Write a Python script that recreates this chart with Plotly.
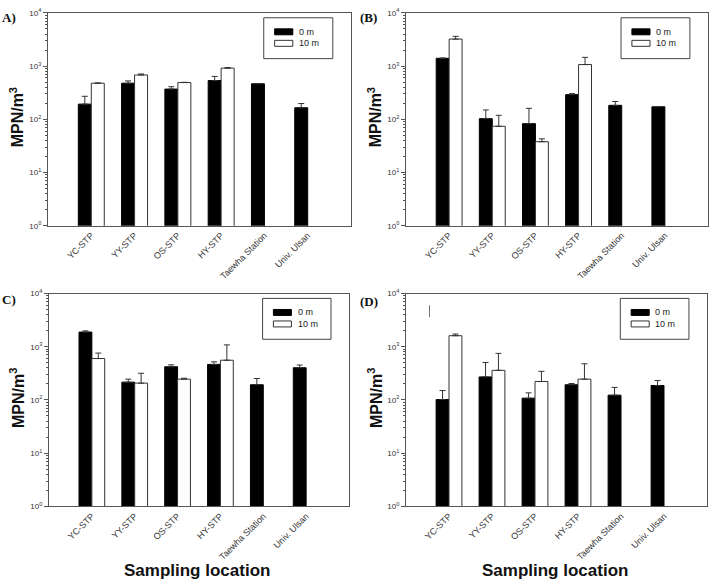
import plotly.graph_objects as go

W, H = 712, 586

categories = ["YC-STP", "YY-STP", "OS-STP", "HY-STP", "Taewha Station", "Univ. Ulsan"]

# Panel A
a_0m = [193, 477, 370, 535, 465, 165]
a_0m_err = [78, 50, 40, 105, 5, 33]
a_10m = [477, 681, 491, 916, None, None]
a_10m_err = [5, 30, 5, 25, None, None]

# Panel B
b_0m = [1400, 103, 83, 291, 183, 172]
b_0m_err = [20, 47, 78, 13, 33, 2]
b_10m = [3220, 74, 38, 1069, None, None]
b_10m_err = [400, 45, 5, 390, None, None]

# Panel C
c_0m = [1884, 216, 420, 465, 193, 403]
c_0m_err = [100, 30, 37, 55, 60, 50]
c_10m = [600, 207, 246, 558, None, None]
c_10m_err = [160, 110, 10, 525, None, None]

# Panel D
d_0m = [102, 271, 108, 193, 123, 187]
d_0m_err = [48, 235, 28, 11, 49, 45]
d_10m = [1611, 360, 222, 246, None, None]
d_10m_err = [120, 390, 123, 232, None, None]

series_names = ["0 m", "10 m"]
panel_labels = ["A)", "(B)", "C)", "(D)"]
ytick_vals = [1, 10, 100, 1000, 10000]
ytick_text = ["10<sup>0</sup>", "10<sup>1</sup>", "10<sup>2</sup>", "10<sup>3</sup>", "10<sup>4</sup>"]

panels = [
    (a_0m, a_0m_err, a_10m, a_10m_err),
    (b_0m, b_0m_err, b_10m, b_10m_err),
    (c_0m, c_0m_err, c_10m, c_10m_err),
    (d_0m, d_0m_err, d_10m, d_10m_err),
]

# pixel geometry of plot areas: (left, right, top, bottom)
geom = [(48, 351, 7, 224), (406, 708, 7, 224), (49, 349, 293, 510), (406, 707, 293, 510)]

SANS = "Liberation Sans"
SERIF = "Liberation Serif"

fig = go.Figure()
AX = "#555555"

for i, (v0, e0, v10, e10) in enumerate(panels):
    xa = "x" if i == 0 else f"x{i+1}"
    ya = "y" if i == 0 else f"y{i+1}"
    fig.add_trace(go.Bar(
        x=categories, y=v0, name=series_names[0], xaxis=xa, yaxis=ya,
        marker=dict(color="black", line=dict(color="black", width=1)),
        error_y=dict(type="data", array=e0, arrayminus=[0] * len(e0), symmetric=False,
                     color="#333333", thickness=1, width=3),
        showlegend=False, offsetgroup="a",
    ))
    fig.add_trace(go.Bar(
        x=categories, y=v10, name=series_names[1], xaxis=xa, yaxis=ya,
        marker=dict(color="white", line=dict(color="#333333", width=1)),
        error_y=dict(type="data", array=[e if e is not None else 0 for e in e10],
                     arrayminus=[0] * len(e10), symmetric=False,
                     color="#333333", thickness=1, width=3),
        showlegend=False, offsetgroup="b",
    ))

layout = dict(
    width=W, height=H, margin=dict(l=0, r=0, t=0, b=0),
    paper_bgcolor="white", plot_bgcolor="white",
    barmode="group", bargap=0.4, bargroupgap=0.0,
    font=dict(family=SANS, color="#222222", size=10),
)

annotations = []
shapes = []
for i, (l, r, t, b) in enumerate(geom):
    xk = "xaxis" if i == 0 else f"xaxis{i+1}"
    yk = "yaxis" if i == 0 else f"yaxis{i+1}"
    xa = "x" if i == 0 else f"x{i+1}"
    ya = "y" if i == 0 else f"y{i+1}"
    layout[xk] = dict(
        domain=[l / W, r / W], anchor=ya, type="category", range=[-1, 6],
        showline=True, linecolor=AX, linewidth=1, mirror=True,
        showgrid=False, zeroline=False, ticks="", tickangle=-45,
        tickfont=dict(size=9, color="#333333", family=SANS),
    )
    layout[yk] = dict(
        domain=[1 - b / H, 1 - t / H], anchor=xa, type="log", range=[0, 4],
        showline=True, linecolor=AX, linewidth=1, mirror=True,
        showgrid=False, zeroline=False,
        tickmode="array", tickvals=ytick_vals, ticktext=ytick_text,
        ticks="outside", ticklen=4, tickcolor=AX,
        minor=dict(ticks="outside", ticklen=2, tickcolor=AX, dtick="D1", showgrid=False),
        tickfont=dict(size=8, color="#333333", family=SANS),
    )
    xd = f"{xa} domain"
    yd = f"{ya} domain"
    # legend box
    shapes.append(dict(type="rect", xref=xd, yref=yd, x0=0.712, x1=0.94, y0=0.785, y1=0.977,
                       line=dict(color="#444444", width=1), fillcolor="white"))
    shapes.append(dict(type="rect", xref=xd, yref=yd, x0=0.748, x1=0.808, y0=0.897, y1=0.925,
                       line=dict(color="black", width=1), fillcolor="black"))
    shapes.append(dict(type="rect", xref=xd, yref=yd, x0=0.748, x1=0.808, y0=0.843, y1=0.871,
                       line=dict(color="#333333", width=1), fillcolor="white"))
    annotations.append(dict(xref=xd, yref=yd, x=0.822, y=0.911, text=series_names[0],
                            showarrow=False, xanchor="left", yanchor="middle",
                            font=dict(size=9, color="#222222", family=SANS)))
    annotations.append(dict(xref=xd, yref=yd, x=0.822, y=0.857, text=series_names[1],
                            showarrow=False, xanchor="left", yanchor="middle",
                            font=dict(size=9, color="#222222", family=SANS)))
    # y title
    ytx = 17 if l < 300 else 375
    annotations.append(dict(xref="paper", yref="paper", x=ytx / W, y=1 - ((t + b) / 2 - 2) / H,
                            text="<b>MPN/m<sup>3</sup></b>", showarrow=False, textangle=-90,
                            xanchor="center", yanchor="middle",
                            font=dict(size=16, color="#111111", family=SANS)))

# panel labels
lab_pos = [(0, 12), (358, 12), (0, 299), (358, 301)]
for txt, (px, py) in zip(panel_labels, lab_pos):
    annotations.append(dict(xref="paper", yref="paper", x=px / W, y=1 - py / H, text=f"<b>{txt}</b>",
                            showarrow=False, xanchor="left", yanchor="middle",
                            font=dict(size=13, color="#111111", family=SERIF)))

# x titles
for cx in (197, 555):
    annotations.append(dict(xref="paper", yref="paper", x=cx / W, y=1 - 575 / H,
                            text="<b>Sampling location</b>", showarrow=False,
                            xanchor="center", yanchor="middle",
                            font=dict(size=17, color="#111111", family=SANS)))

# stray mark in panel D
shapes.append(dict(type="line", xref="paper", yref="paper", x0=429.5 / W, x1=429.5 / W,
                   y0=1 - 305 / H, y1=1 - 317 / H, line=dict(color="#777777", width=1)))

layout["annotations"] = annotations
layout["shapes"] = shapes
fig.update_layout(**layout)
fig.write_html("out.html")
